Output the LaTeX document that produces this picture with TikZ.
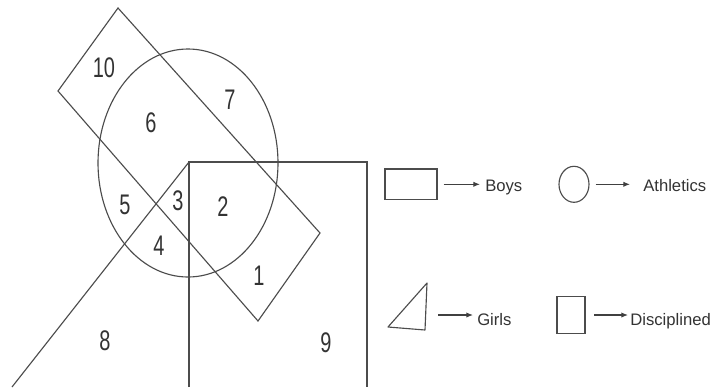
\documentclass[tikz,border=0pt]{standalone}
\usepackage{fontspec}
\setmainfont{Liberation Sans}
\usepackage{graphicx}
\usepackage{tikz}
\usetikzlibrary{arrows.meta, positioning, shapes.geometric}

% region numbers are printed tall and narrow
\newcommand{\regionnum}[1]{\scalebox{0.88}[1.25]{#1}}

\begin{document}
\begin{tikzpicture}[x=0.75pt, y=-0.75pt,
  set/.style={draw=black!70, line width=0.85pt},
  num/.style={font=\fontsize{17}{19}\selectfont, text=black!80},
  keytext/.style={font=\fontsize{12.5}{14}\selectfont, text=black!80, anchor=base west, inner sep=0pt},
  keyarrow/.style={draw=black!75, line width=0.85pt, -{Latex[length=5pt,width=4pt]}}]
  \useasboundingbox (0,0) rectangle (714,387);

  % Corners of the tilted rectangle (boys)
  \coordinate (RT) at (118,8);
  \coordinate (RR) at (320,233);
  \coordinate (RB) at (258,321);
  \coordinate (RL) at (58,91);

  % Top corners of the square (disciplined)
  \coordinate (SL) at (189,162);
  \coordinate (SR) at (367,162);

  % Draw tilted rectangle
  \draw[set] (RT) -- (RR) -- (RB) -- (RL) -- cycle;

  % Draw circle (athletics)
  \draw[set] (188,163) ellipse [x radius=90, y radius=114];

  % Draw square, cut off at the bottom
  \draw[set] (189,387) -- (SL) -- (SR) -- (367,387);

  % Triangle (girls): only the slanted side shows
  \draw[set] (SL) -- (12,387);

  % Region numbers
  \node[num] (n1) at (259,276) {\regionnum{1}};
  \node[num] (n2) at (223,207) {\regionnum{2}};
  \node[num] (n3) at (178,201) {\regionnum{3}};
  \node[num] (n4) at (159,246) {\regionnum{4}};
  \node[num] (n5) at (125,205) {\regionnum{5}};
  \node[num] (n6) at (151,123) {\regionnum{6}};
  \node[num] (n7) at (230,100) {\regionnum{7}};
  \node[num] (n8) at (105,341) {\regionnum{8}};
  \node[num] (n9) at (326,343) {\regionnum{9}};
  \node[num] (n10) at (104,68) {\regionnum{10}};

  % Legend shapes
  \node[set, rectangle, minimum width=39pt, minimum height=23pt, inner sep=0pt] (kboys) at (411,184.3) {};
  \node[set, ellipse, minimum width=22.5pt, minimum height=27pt, inner sep=0pt] (kath) at (574,184.3) {};
  \node[set, rectangle, minimum width=21pt, minimum height=27.75pt, inner sep=0pt] (kdis) at (571,315) {};
  \draw[set, line join=round] (388,327) -- (427,283) -- (425,330) -- cycle;
  \coordinate (kgirls) at (433,315);

  % Legend texts
  \node[keytext] (tboys) at (485,191.5) {Boys};
  \node[keytext] (tath) at (643,191.5) {Athletics};
  \node[keytext] (tgirls) at (477,325) {Girls};
  \node[keytext] (tdis) at (630,325) {Disciplined};

  % Legend arrows
  \draw[keyarrow] ([xshift=4.5pt]kboys.east) -- ([xshift=-3.75pt]kboys.east -| tboys.west);
  \draw[keyarrow] ([xshift=4.5pt]kath.east) -- ([xshift=-9.75pt]kath.east -| tath.west);
  \draw[keyarrow] ([xshift=3.75pt]kgirls) -- ([xshift=-3pt]kgirls -| tgirls.west);
  \draw[keyarrow] ([xshift=6.5pt]kdis.east) -- ([xshift=-1.5pt]kdis.east -| tdis.west);
\end{tikzpicture}
\end{document}
